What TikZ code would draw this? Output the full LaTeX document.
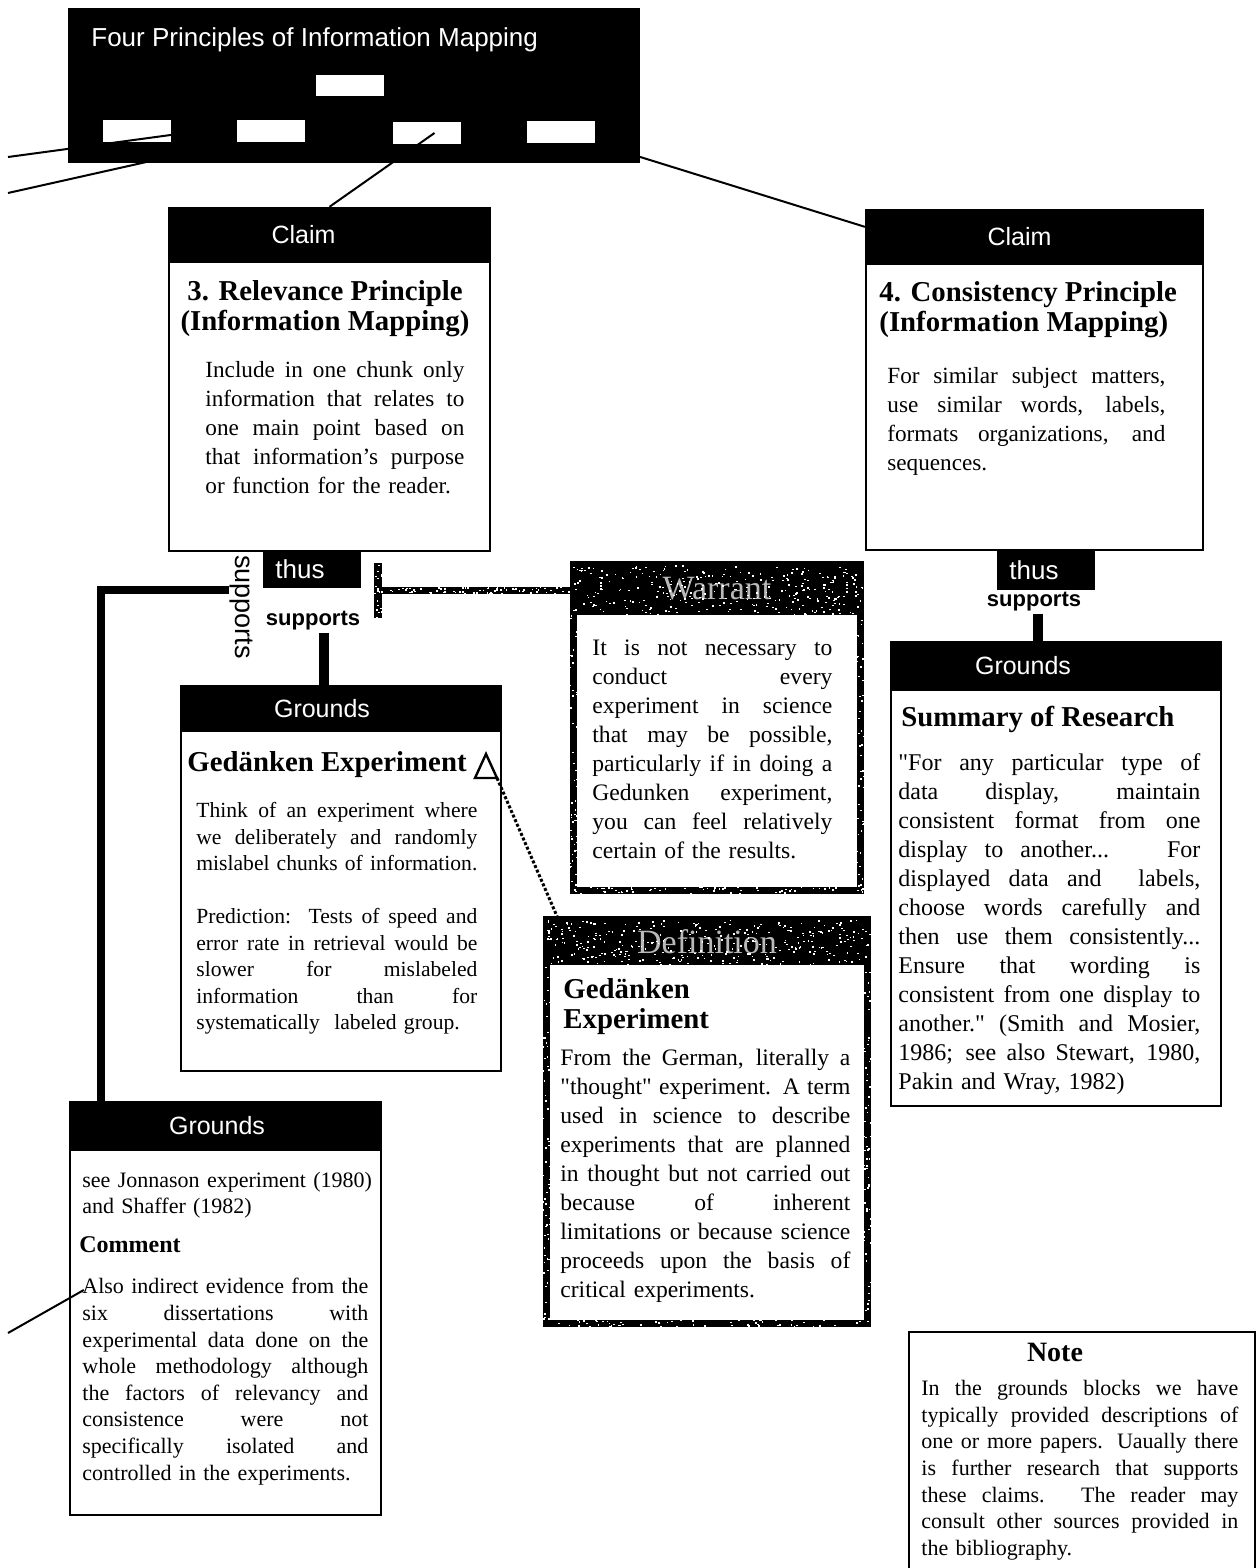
\documentclass[tikz,border=0pt]{standalone}
\usepackage{fontspec}
\setmainfont{Liberation Serif}
\setsansfont{Liberation Sans}
\newfontfamily\plainserif{Liberation Serif}
\usetikzlibrary{calc}
\setlength{\parindent}{0pt}

% one fully justified line of a text block
\newlength\jw
\newcommand\jline[1]{{\spaceskip=0pt\xspaceskip=0pt\makebox[\jw][s]{#1}}\\}
% straight double quote
\newcommand\dq{{\plainserif"}}
% scatter white specks over a rectangle (x1,y1,x2,y2,count)
\newcommand\grain[5]{%
  \foreach \k in {1,...,#5}{%
    \pgfmathsetmacro\gx{#1+rnd*(#3-#1)}%
    \pgfmathsetmacro\gy{#2+rnd*(#4-#2)}%
    \fill[white] (\gx,\gy) rectangle ++(1.7,1.4);}}

\begin{document}
\begin{tikzpicture}[x=0.5pt,y=-0.5pt,
  frame/.style={draw=black,line width=1.2pt,fill=white,inner sep=0pt},
  gframe/.style={draw=black,line width=3.5pt,fill=white,inner sep=0pt},
  header/.style={fill=black,draw=black,line width=1.2pt,inner sep=0pt,text=white,
    font=\sffamily\fontsize{12.5}{14}\selectfont},
  gheader/.style={fill=black,inner sep=0pt,text=gray!55,font=\fontsize{17}{19}\selectfont},
  tag/.style={fill=black,inner sep=0pt,text=white,font=\sffamily\fontsize{13}{15}\selectfont},
  sup/.style={inner sep=1pt,font=\sffamily\bfseries\fontsize{11}{13}\selectfont},
  slot/.style={fill=white,inner sep=0pt,minimum width=34pt,minimum height=10.5pt},
  title/.style={inner sep=0pt,font=\bfseries\fontsize{14.4}{15}\selectfont},
  body/.style={inner sep=0pt,align=left,anchor=north west,text width=#1,
    execute at begin node={\setlength{\jw}{#1}}},
  link/.style={line width=1pt},
  bar/.style={line width=4pt},
]
\useasboundingbox (0,0) rectangle (1257,1568);
\fill[white] (0,0) rectangle (1257,1568);
\pgfmathsetseed{4711}

% ---------- title panel ----------
\node[fill=black,inner sep=0pt,minimum width=286pt,minimum height=77.5pt] (top) at (354,85.5) {};
\node[anchor=west,inner sep=0pt,text=white,font=\sffamily\fontsize{13}{15}\selectfont] (toptitle) at (91,40)
  {Four Principles of Information Mapping};
\node[slot] (r0) at (350,85.5) {};
\node[slot] (r1) at (137,131) {};
\node[slot] (r2) at (270.5,131) {};
\node[slot] (r3) at (426.5,133) {};
\node[slot] (r4) at (560.5,132) {};

% ---------- claim 3 ----------
\node[frame,minimum width=160.5pt,minimum height=171.5pt] (c3) at (329.5,379.5) {};
\node[header,minimum width=160.5pt,minimum height=27pt] (c3h) at (329.5,235) {Claim\kern26pt};
\node[title,anchor=north,align=center] (c3t) at (325,280)
  {3. Relevance Principle\\(Information Mapping)};
\node[body=129.5pt,font=\fontsize{11.6}{14.5}\selectfont] (c3b) at (205,361) {%
\jline{Include in one chunk only}
\jline{information that relates to}
\jline{one main point based on}
\jline{that information's purpose}
or function for the reader.};

% ---------- claim 4 ----------
\node[frame,minimum width=168.5pt,minimum height=170pt] (c4) at (1034.5,380) {};
\node[header,minimum width=168.5pt,minimum height=27pt] (c4h) at (1034.5,237) {Claim\kern15pt};
\node[title,anchor=north west,align=left] (c4t) at (879,281)
  {4. Consistency Principle\\(Information Mapping)};
\node[body=139pt,font=\fontsize{11.6}{14.5}\selectfont] (c4b) at (887,367) {%
\jline{For similar subject matters,}
\jline{use similar words, labels,}
\jline{formats organizations, and}
sequences.};

% ---------- thus / supports tags ----------
\node[tag,minimum width=49pt,minimum height=18.5pt] (t3) at (312,569.5) {thus\kern12pt};
\node[sup] (sup3) at (313,621) {supports};
\node[inner sep=0pt,rotate=-90,font=\sffamily\fontsize{13.5}{15}\selectfont] (sup3v) at (241,607) {supports};
\node[tag,minimum width=49pt,minimum height=19.5pt] (t4) at (1046,570.5) {thus\kern12pt};
\node[sup] (sup4) at (1034,602) {supports};

% ---------- grounds: Gedanken experiment ----------
\node[frame,minimum width=160pt,minimum height=192.5pt] (ged) at (341,878.5) {};
\node[header,minimum width=160pt,minimum height=22.5pt] (gedh) at (341,708.5) {Grounds\kern19pt};
\node[title,anchor=north west] (gedt) at (187,751) {Gedänken Experiment};
\draw[line width=1.2pt,line join=miter] (475,778) -- (486,754) -- (497,778) -- cycle;
\coordinate (tri) at (497,778);
\node[body=140.5pt,font=\fontsize{10.8}{13.25}\selectfont] (gedb) at (196,802) {%
\jline{Think of an experiment where}
\jline{we deliberately and randomly}
\jline{mislabel chunks of information.}
\mbox{}\\
\jline{Prediction:\ \ Tests of speed and}
\jline{error rate in retrieval would be}
\jline{slower for mislabeled}
\jline{information than for}
systematically\ \ labeled group.};

% ---------- grounds: summary of research ----------
\node[frame,minimum width=165pt,minimum height=232pt] (sum) at (1056,874) {};
\node[header,minimum width=165pt,minimum height=24pt] (sumh) at (1056,666) {Grounds\kern33pt};
\node[title,anchor=north west] (sumt) at (901,706) {Summary of Research};
\node[body=151pt,font=\fontsize{12}{14.5}\selectfont] (sumb) at (898,753) {%
\jline{\dq For any particular type of}
\jline{data display, maintain}
\jline{consistent format from one}
\jline{display to another... \ For}
\jline{displayed data and \ labels,}
\jline{choose words carefully and}
\jline{then use them consistently...}
\jline{Ensure that wording is}
\jline{consistent from one display to}
\jline{another.\dq\ (Smith and Mosier,}
\jline{1986; see also Stewart, 1980,}
Pakin and Wray, 1982)};

% ---------- grounds: Jonnason ----------
\node[frame,minimum width=155.5pt,minimum height=206.5pt] (jon) at (225.5,1308.5) {};
\node[header,minimum width=155.5pt,minimum height=24pt] (jonh) at (225.5,1126) {Grounds\kern8.5pt};
\node[body=146pt,font=\fontsize{11}{13}\selectfont] (jona) at (82,1172)
  {see Jonnason experiment (1980)\\and Shaffer (1982)};
\node[inner sep=0pt,anchor=north west,font=\bfseries\fontsize{12}{14}\selectfont] (jonc) at (79,1236) {Comment};
\node[body=143pt,font=\fontsize{11}{13.3}\selectfont] (jonb) at (82,1278) {%
\jline{Also indirect evidence from the}
\jline{six dissertations with}
\jline{experimental data done on the}
\jline{whole methodology although}
\jline{the factors of relevancy and}
\jline{consistence were not}
\jline{specifically isolated and}
controlled in the experiments.};

% ---------- warrant ----------
\node[gframe,minimum width=143.5pt,minimum height=163pt] (war) at (717,727) {};
\node[gheader,minimum width=147pt,minimum height=26pt] (warh) at (717,589) {Warrant};
\node[body=120pt,font=\fontsize{11.8}{14.5}\selectfont] (warb) at (592,639) {%
\jline{It is not necessary to}
\jline{conduct every}
\jline{experiment in science}
\jline{that may be possible,}
\jline{particularly if in doing a}
\jline{Gedunken experiment,}
\jline{you can feel relatively}
certain of the results.};

% ---------- definition ----------
\node[gframe,minimum width=160.5pt,minimum height=202pt] (def) at (707,1121) {};
\node[gheader,minimum width=164pt,minimum height=23.5pt] (defh) at (707,941.5) {Definition};
\node[title,anchor=north west,align=left] (deft) at (563,978)
  {Gedänken\\Experiment};
\node[body=145pt,font=\fontsize{11.8}{14.5}\selectfont] (defb) at (560,1049) {%
\jline{From the German, literally a}
\jline{\dq thought\dq\ experiment. A term}
\jline{used in science to describe}
\jline{experiments that are planned}
\jline{in thought but not carried out}
\jline{because of inherent}
\jline{limitations or because science}
\jline{proceeds upon the basis of}
critical experiments.};

% ---------- note ----------
\node[frame,minimum width=173pt,minimum height=125pt] (note) at (1082,1457) {};
\node[title,anchor=north,font=\bfseries\fontsize{14}{15}\selectfont] (notet) at (1055,1343) {Note};
\node[body=158.5pt,font=\fontsize{11}{13.3}\selectfont] (noteb) at (921,1380) {%
\jline{In the grounds blocks we have}
\jline{typically provided descriptions of}
\jline{one or more papers. Uaually there}
\jline{is further research that supports}
\jline{these claims. The reader may}
\jline{consult other sources provided in}
the bibliography.};

% ---------- connectors ----------
\coordinate (fa) at (8,157);
\coordinate (fb) at (8,193);
\draw[link] (fa) -- ($(r1.south east)+(0,-7)$);
\draw[link] (fb) -- (r2.south west);
\draw[link] ($(r3.center)+(8,0)$) -- (c3h.north);
\draw[link] (r4.south east) -- ($(c4h.north west)+(0,18)$);

% supports link from relevance claim down to the Jonnason grounds
\coordinate (jl) at (229,590);
\coordinate (jt) at (100.5,1102);
\draw[bar] (jl) -| (jt);

% supports link to the Gedanken grounds
\coordinate (gc) at ($(sup3.south)+(11,0)$);
\draw[line width=5pt] (gc) -- (gc |- gedh.north);

% supports link to the summary grounds
\coordinate (sc) at ($(sup4.south)+(4,0)$);
\draw[line width=5pt] (sc) -- (sc |- sumh.north);

% warrant T-connector
\coordinate (wt1) at (378,563);
\coordinate (wt2) at (378,618);
\coordinate (wtm) at (378,590);
\draw[line width=4pt] (wt1) -- (wt2);
\draw[line width=3.5pt] (wtm) -- (warh.west |- wtm);

% definition pointer
\draw[line width=1.5pt,densely dotted] (tri) -- ($(defh.north west)+(15,0)$);

% comment pointer
\coordinate (cfree) at (8,1333);
\draw[link] (cfree) -- ($(jon.west)+(15,-18.5)$);

% ---------- speckled texture ----------
\grain{572}{565}{862}{614}{300}
\grain{569}{615}{578}{893}{60}
\grain{856}{615}{866}{893}{60}
\grain{569}{884}{866}{893}{70}
\grain{374}{563}{382}{618}{22}
\grain{382}{587}{570}{593}{70}
\grain{545}{920}{869}{964}{320}
\grain{542}{965}{551}{1327}{80}
\grain{863}{965}{872}{1327}{80}
\grain{542}{1318}{872}{1327}{80}
\end{tikzpicture}
\end{document}
